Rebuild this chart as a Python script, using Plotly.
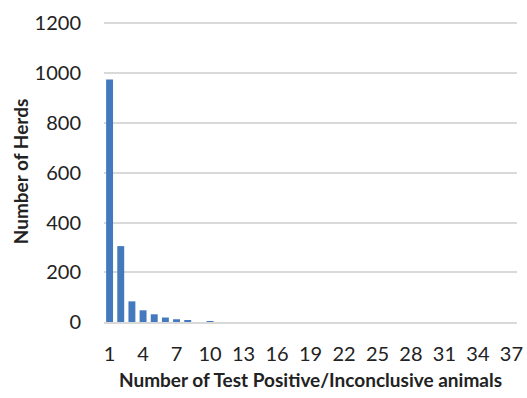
import plotly.graph_objects as go

categories = list(range(1, 38))
herds = [975, 305, 83, 47, 31, 18, 11, 7, 0, 3] + [0] * 27
tick_vals = list(range(1, 38, 3))
tick_text = [str(v) for v in tick_vals]
y_ticks = [0, 200, 400, 600, 800, 1000, 1200]

fig = go.Figure(go.Bar(x=categories, y=herds, marker_color="#4479BE",
                       marker_line_width=0))
fig.update_layout(
    width=527, height=398,
    margin=dict(l=104, r=10, t=21, b=76),
    plot_bgcolor="white", paper_bgcolor="white",
    bargap=0.38,
    font=dict(family="Lato, Open Sans, sans-serif", color="#222222"),
    showlegend=False,
)
fig.update_xaxes(
    range=[0.5, 37.5], tickmode="array", tickvals=tick_vals, ticktext=tick_text,
    tickfont=dict(size=20), ticks="", ticklabelstandoff=13, automargin=False,
    showgrid=False, showline=True, linecolor="#d9d9d9", linewidth=1.5,
    title=dict(text="<b>Number of Test Positive/Inconclusive animals</b>",
               font=dict(size=19), standoff=10),
)
fig.update_yaxes(
    range=[0, 1210], tickmode="array", tickvals=y_ticks,
    tickfont=dict(size=20), ticks="",
    ticklabelstandoff=22, automargin=False,
    showgrid=True, gridcolor="#d9d9d9", gridwidth=1.5, zeroline=False,
    title=dict(text="<b>Number of Herds</b>", font=dict(size=19), standoff=0),
)
fig.write_html("out.html", config={"displayModeBar": False},
               post_script="document.body.style.margin='0';document.body.style.overflow='hidden';")
